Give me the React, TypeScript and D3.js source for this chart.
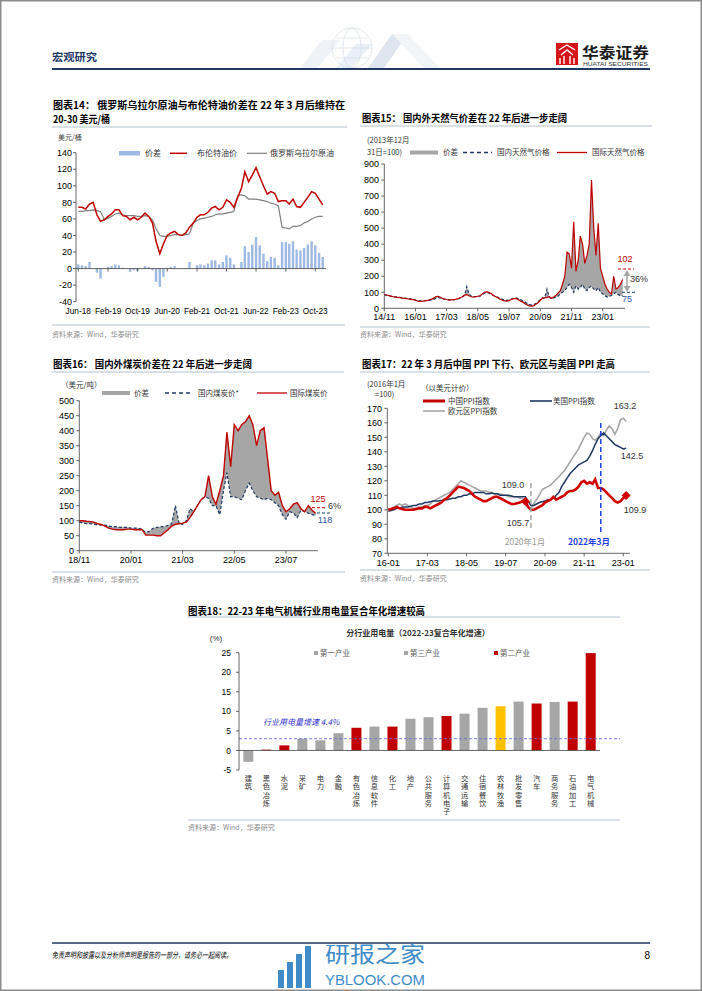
import React from "react";
import * as d3 from "d3";

const SANS = "'Liberation Sans', Arial, 'Noto Sans CJK SC', sans-serif";
const CJK = "'Noto Sans CJK SC', 'Liberation Sans', sans-serif";
const RED = "#C00000";
const NAVY = "#1F3864";
const GRAY = "#A6A6A6";
const AX = "#404040";

// ---------------- Chart 14 data (monthly, Jun-18 .. Dec-23) ----------------
const c14Start = "2018-06";
const c14End = "2023-12";
const c14TickLabels = ["Jun-18", "Feb-19", "Oct-19", "Jun-20", "Feb-21", "Oct-21", "Jun-22", "Feb-23", "Oct-23"];
const c14YTicks = [-40, -20, 0, 20, 40, 60, 80, 100, 120, 140];
const c14Brent = [
  74, 74, 72, 78, 80, 65, 57,
  59, 63, 66, 71, 71, 64, 63, 59, 62, 59, 62, 67,
  63, 55, 33, 18, 30, 40, 43, 45, 41, 40, 43, 50,
  55, 62, 65, 65, 68, 73, 75, 71, 74, 83, 80, 74,
  86, 97, 117, 105, 113, 122, 111, 100, 90, 93, 91, 81,
  82, 82, 78, 84, 75, 74, 80, 86, 93, 91, 84, 77,
];
const c14Urals = [
  69, 69, 70, 70, 71, 70, 69,
  59, 61, 63, 66, 67, 65, 64, 64, 64, 63, 63, 64,
  63, 59, 48, 40, 39, 39, 40, 41, 41, 40, 41, 42,
  55, 58, 60, 61, 62, 63, 65, 66, 66, 67, 68, 69,
  88, 89, 88, 84, 84, 84, 83, 82, 81, 79, 78, 76,
  50, 49, 48, 51, 51, 52, 55, 57, 60, 62, 63, 63,
];
const c14Spread = [
  5, 4, 3, 8, 0, -5, -12,
  0, 2, 3, 5, 4, 1, 0, -4, -2, -3, 0, 3,
  2, -2, -16, -22, -10, 1, 2, 3, 0, 0, 0, 8,
  0, 4, 5, 4, 6, 10, 10, 5, 8, 16, 13, 5,
  0, 8, 27, 20, 29, 38, 28, 18, 9, 14, 13, 4,
  32, 32, 30, 33, 23, 22, 25, 29, 33, 28, 19, 14,
];

// ---------------- Chart 15 data (monthly, 14/11 .. 23/10) ----------------
const c15Start = "2014-11";
const c15TickLabels = ["14/11", "16/01", "17/03", "18/05", "19/07", "20/09", "21/11", "23/01"];
const c15YTicks = [0, 100, 200, 300, 400, 500, 600, 700, 800, 900];
const c15Intl = [
  85, 83, 80, 76, 72, 70, 68, 66, 64, 62, 60, 58, 56, 54,
  50, 45, 43, 44, 46, 48, 52, 56, 62, 72, 75, 70,
  62, 58, 55, 53, 52, 54, 56, 60, 66, 72, 82, 85,
  78, 72, 70, 72, 75, 78, 90, 100, 104, 98, 92, 80,
  72, 65, 56, 50, 46, 44, 48, 55, 60, 62, 55, 45,
  40, 30, 22, 15, 13, 15, 25, 35, 50, 62, 65, 68,
  72, 62, 70, 80, 95, 110, 150, 200, 350, 340, 250, 540,
  230, 300, 450, 400, 280, 330, 400, 800, 500, 330, 530, 250,
  200, 150, 120, 100, 90, 200, 120, 130, 150, 180,
];
const c15Dom = [
  85, 82, 78, 75, 73, 72, 70, 68, 66, 64, 62, 60, 58, 56,
  52, 48, 46, 46, 47, 48, 50, 52, 55, 62, 68, 65,
  60, 57, 55, 53, 52, 53, 55, 58, 64, 70, 80, 135,
  90, 75, 72, 73, 74, 76, 85, 95, 98, 95, 88, 80,
  74, 68, 62, 56, 52, 50, 52, 58, 62, 65, 60, 55,
  48, 40, 32, 25, 20, 22, 30, 40, 55, 65, 65, 120,
  70, 60, 65, 70, 75, 90, 100, 110, 130, 150, 130, 100,
  140, 120, 130, 150, 120, 110, 130, 140, 120, 110, 130, 100,
  90, 80, 70, 75, 80, 90, 100, 85, 80, 75,
];

// ---------------- Chart 16 data (monthly, 18/11 .. 24/03) ----------------
const c16Start = "2018-11";
const c16TickLabels = ["18/11", "20/01", "21/03", "22/05", "23/07"];
const c16YTicks = [0, 50, 100, 150, 200, 250, 300, 350, 400, 450, 500];
const c16Intl = [
  100, 100, 98, 97, 95, 90, 88, 82, 75, 72, 70, 70, 70,
  72, 72, 70, 70, 70, 52, 52, 52, 50, 50, 60, 70, 82,
  88, 90, 92, 95, 110, 130, 150, 170, 180, 250, 180, 155, 200,
  250, 395, 280, 420, 400, 420, 430, 450, 420, 350, 400, 410, 300,
  200, 185, 195, 150, 130, 140, 155, 160, 140, 130, 150, 135, 125,
];
const c16Dom = [
  95, 92, 90, 90, 88, 87, 85, 85, 82, 80, 80, 78, 78,
  78, 75, 75, 75, 72, 60, 65, 75, 78, 80, 80, 85, 90,
  150, 90, 88, 100, 140, 130, 150, 170, 180, 175, 150, 150, 120,
  200, 260, 180, 180, 175, 170, 200, 225, 200, 180, 175, 170, 175,
  170, 160, 150, 120, 105, 130, 125, 110, 135, 130, 125, 120, 118,
];

// ---------------- Chart 17 data (monthly, 16-01 .. 23-02) ----------------
const c17Start = "2016-01";
const c17TickLabels = ["16-01", "17-03", "18-05", "19-07", "20-09", "21-11", "23-01"];
const c17YTicks = [70, 80, 90, 100, 110, 120, 130, 140, 150, 160, 170];
const c17China = [
  100, 100.5, 101, 102, 101, 100.5, 100, 100, 100, 100, 100.5, 101,
  101, 102, 102, 101, 102, 103, 104, 105, 107, 108, 110, 112,
  114, 116, 115.5, 115, 114, 113, 111, 109, 108, 107, 106, 106,
  107, 108, 109, 109, 108, 107, 106, 105, 104, 104, 104.5, 105,
  106, 105.7, 102, 100, 100, 101, 102, 103, 105, 106, 107, 109,
  107, 108, 109, 110, 112, 113, 113, 114, 116, 119, 120, 118,
  119, 118, 121, 115, 115, 114, 112, 110, 108, 106, 105, 106,
  108, 109.9,
];
const c17US = [
  99, 99.5, 100, 101, 101, 102, 102, 102, 102.5, 103, 103, 104,
  104, 105, 105, 105.5, 106, 106, 106, 106.5, 107, 107, 107.5, 108,
  108, 109, 109, 110, 110, 111, 111, 112, 112, 112, 112, 111,
  111, 111.5, 111, 111, 110, 110, 110, 110, 109.5, 109, 109, 109,
  109, 109.0, 106, 103, 103, 104, 105, 105.5, 106, 107, 107, 108,
  110, 112, 116, 119, 122, 125, 127, 129, 131, 132, 133, 134,
  137, 141, 145, 149, 151, 153, 151, 149, 147, 145, 144, 143,
  142, 142.5,
];
const c17Euro = [
  100, 101, 102, 103, 104, 103, 104, 103, 102, 101, 101, 102,
  102, 103, 103, 104, 106, 107, 108, 109, 110, 111, 112, 114,
  116, 118, 120, 119, 118, 117, 116, 115, 114, 113, 113, 113,
  112, 112, 111, 111, 111, 110, 110, 109, 109, 109, 109, 108,
  108, 104, 102, 101, 104, 107, 110, 114, 115, 116, 117, 119,
  121, 123, 125, 127, 130, 133, 136, 139, 142, 146, 150, 153,
  152, 149, 148, 150, 153, 151, 155, 158, 156, 152, 156, 162,
  163.2, 161,
];
const c17MarkLow = "2020-02";
const c17MarkEnd = "2023-02";
const c17Line2020 = "2020-04";
const c17Line2022 = "2022-05";

// ---------------- Chart 18 data ----------------
const c18Cats = ["建筑", "黑色冶炼", "水泥", "采矿", "电力", "金融", "有色冶炼", "信息软件", "化工", "地产", "公共服务", "计算机电子", "交通运输", "住宿餐饮", "农林牧渔", "批发零售", "汽车", "商务服务", "石油加工", "电气机械"];
const c18Vals = [-2.9, 0.2, 1.3, 3.0, 2.6, 4.4, 5.8, 6.1, 6.1, 8.1, 8.5, 8.8, 9.4, 10.9, 11.3, 12.5, 12.0, 12.4, 12.5, 24.9];
const c18Group = ["g", "r", "r", "g", "g", "g", "r", "g", "r", "g", "g", "r", "g", "g", "y", "g", "r", "g", "r", "r"];
const c18YTicks = [-5, 0, 5, 10, 15, 20, 25];
const c18Avg = 3.0;
const c18Legend = [
  { label: "第一产业", g: "g" },
  { label: "第三产业", g: "g" },
  { label: "第二产业", g: "r" },
];
const c18Colors: Record<string, string> = { g: "#A6A6A6", r: "#C00000", y: "#FFC000" };

const pm = d3.timeParse("%Y-%m");
const months = (start: string, n: number) => d3.range(n).map((i) => d3.timeMonth.offset(pm(start)!, i));

function YAxis({ scale, ticks, x, labelX, fs = 9, tick = 3 }: any) {
  const [a, b] = scale.range();
  return (
    <g>
      <line x1={x} x2={x} y1={a} y2={b} stroke={AX} strokeWidth={0.8} />
      {ticks.map((t: number) => (
        <g key={t}>
          <line x1={x - tick} x2={x} y1={scale(t)} y2={scale(t)} stroke={AX} strokeWidth={0.8} />
          <text x={labelX} y={scale(t) + fs * 0.36} textAnchor="end" fontSize={fs} fontFamily={SANS} fill="#000">{t}</text>
        </g>
      ))}
    </g>
  );
}

function XAxis({ scale, ticks, labels, y, x1, x2, labelY, fs = 9 }: any) {
  return (
    <g>
      <line x1={x1} x2={x2} y1={y} y2={y} stroke={AX} strokeWidth={0.8} />
      {ticks.map((t: Date, i: number) => (
        <g key={i}>
          <line x1={scale(t)} x2={scale(t)} y1={y} y2={y + 3} stroke={AX} strokeWidth={0.8} />
          <text x={scale(t)} y={labelY} textAnchor="middle" fontSize={fs} fontFamily={SANS} fill="#000">{labels[i]}</text>
        </g>
      ))}
    </g>
  );
}

function Title({ x, y, text, w }: any) {
  return (
    <text x={x} y={y} fontFamily={CJK} fontWeight="bold" fontSize={10} fill="#000" textLength={w} lengthAdjust="spacingAndGlyphs">{text}</text>
  );
}

function Source({ x, y }: any) {
  return <text x={x} y={y} fontFamily={CJK} fontSize={7} fill="#8c8c8c">资料来源：Wind，华泰研究</text>;
}

function Sep({ x1, x2, y }: any) {
  return <line x1={x1} x2={x2} y1={y} y2={y} stroke="#B4C0D0" strokeWidth={1} />;
}

function Header() {
  return (
    <g>
      <g opacity={0.5} fill="none" stroke="#c9d3e2" strokeWidth={1}>
        <circle cx={352} cy={48} r={20} />
        <ellipse cx={352} cy={48} rx={9} ry={20} />
        <path d="M332 48 H372 M336 38 H368 M336 58 H368" />
      </g>
      <g opacity={0.45}>
        <polygon points="300,68 318,68 340,40 322,40" fill="#dde4ee" />
        <polygon points="368,68 384,68 408,34 392,34" fill="#b8c7dd" />
        <polygon points="392,34 408,34 440,68 424,68" fill="#e3e8ef" />
        <polygon points="336,68 352,68 372,44 356,44" fill="#cfe0f0" />
      </g>
      <text x={52} y={61} fontFamily={CJK} fontWeight="bold" fontSize={10.5} fill={NAVY} textLength={45} lengthAdjust="spacingAndGlyphs">宏观研究</text>
      <line x1={52} x2={650} y1={69} y2={69} stroke={NAVY} strokeWidth={1.8} />
      <rect x={556} y={43} width={22} height={22} fill="#D7141A" />
      <path d="M559 50 L567 45 L575 50 M561 55 L567 50 L573 55 M560 64 V58 M564 64 V56 M570 64 V56 M574 64 V58" stroke="#fff" strokeWidth={1.4} fill="none" />
      <text x={582} y={58} fontFamily={CJK} fontWeight="bold" fontSize={15} fill="#1a1a1a" textLength={67} lengthAdjust="spacingAndGlyphs">华泰证券</text>
      <text x={583} y={66} fontFamily={SANS} fontSize={5} fill="#333" textLength={65} lengthAdjust="spacingAndGlyphs">HUATAI SECURITIES</text>
    </g>
  );
}

function Footer() {
  const bx = [278, 287, 296, 305];
  const bh = [18, 26, 34, 42];
  return (
    <g>
      <line x1={52} x2={650} y1={943} y2={943} stroke={NAVY} strokeWidth={1.5} />
      <text x={52} y={958} fontFamily={CJK} fontSize={8} fontStyle="italic" fill="#000" textLength={180} lengthAdjust="spacingAndGlyphs">免责声明和披露以及分析师声明是报告的一部分，请务必一起阅读。</text>
      <text x={650} y={959} textAnchor="end" fontFamily={SANS} fontSize={10} fill="#000">8</text>
      <g fill="#2C7FC2" opacity={0.9}>
        {bx.map((x, i) => <rect key={i} x={x} y={988 - bh[i]} width={6} height={bh[i]} />)}
        <text x={325} y={962} fontFamily={CJK} fontSize={22} textLength={100} lengthAdjust="spacingAndGlyphs">研报之家</text>
        <text x={325} y={985} fontFamily={SANS} fontSize={15} textLength={100} lengthAdjust="spacingAndGlyphs">YBLOOK.COM</text>
      </g>
    </g>
  );
}

function Chart14() {
  const dates = months(c14Start, c14Brent.length);
  const x = d3.scaleTime().domain([pm(c14Start)!, pm(c14End)!]).range([78.3, 322.7]);
  const y = d3.scaleLinear().domain([-40, 140]).range([301.7, 152.7]);
  const line = (arr: number[]) => d3.line<number>().x((_, i) => x(dates[i])).y((d) => y(d))(arr)!;
  const tp = d3.timeParse("%b-%y");
  const ticks = c14TickLabels.map((l) => tp(l)!);
  return (
    <g>
      <Title x={53} y={109} text="图表14： 俄罗斯乌拉尔原油与布伦特油价差在  22  年  3  月后维持在" w={292} />
      <Title x={53} y={123} text="20-30 美元/桶" w={57} />
      <Sep x1={52} x2={347} y={127} />
      <text x={58} y={140} fontFamily={CJK} fontSize={7} fill="#404040">美元/桶</text>
      {c14Spread.map((v, i) => (
        <rect key={i} x={x(dates[i]) - 1.2} width={2.4} y={Math.min(y(v), y(0))} height={Math.abs(y(v) - y(0))} fill="#9DB9E4" />
      ))}
      <path d={line(c14Urals)} fill="none" stroke="#7f7f7f" strokeWidth={1.2} />
      <path d={line(c14Brent)} fill="none" stroke={RED} strokeWidth={1.5} />
      <YAxis scale={y} ticks={c14YTicks} x={76} labelX={72} />
      <XAxis scale={x} ticks={ticks} labels={c14TickLabels} y={y(0)} x1={76} x2={326} labelY={314} fs={8.3} />
      <rect x={119} y={151} width={21} height={4.5} fill="#9DB9E4" />
      <text x={145} y={156} fontFamily={CJK} fontSize={8} fill="#333">价差</text>
      <line x1={170} x2={187} y1={153.3} y2={153.3} stroke={RED} strokeWidth={1.5} />
      <text x={197} y={156} fontFamily={CJK} fontSize={8} fill="#333">布伦特油价</text>
      <line x1={247} x2={267} y1={153.3} y2={153.3} stroke="#7f7f7f" strokeWidth={1.2} />
      <text x={270} y={156} fontFamily={CJK} fontSize={8} fill="#333">俄罗斯乌拉尔原油</text>
      <Sep x1={52} x2={345} y={325} />
      <Source x={52} y={337} />
    </g>
  );
}

function Chart15() {
  const dates = months(c15Start, c15Intl.length);
  const x = d3.scaleTime().domain([pm("2014-11")!, pm("2023-01")!]).range([384.3, 602.7]);
  const y = d3.scaleLinear().domain([0, 900]).range([308.3, 164]);
  const tp = d3.timeParse("%y/%m");
  const ticks = c15TickLabels.map((l) => tp(l)!);
  const area = d3.area<number>().x((_, i) => x(dates[i])).y0((_, i) => y(c15Dom[i])).y1((d) => y(d))(c15Intl)!;
  const line = (arr: number[]) => d3.line<number>().x((_, i) => x(dates[i])).y((d) => y(d))(arr)!;
  return (
    <g>
      <Title x={362} y={122} text="图表15： 国内外天然气价差在 22 年后进一步走阔" w={205} />
      <Sep x1={360} x2={652} y={126} />
      <text x={367} y={143} fontFamily={CJK} fontSize={7.5} fill="#333">(2013年12月</text>
      <text x={367} y={155} fontFamily={CJK} fontSize={7.5} fill="#333">31日=100)</text>
      <rect x={410} y={150.5} width={28} height={4} fill={GRAY} />
      <text x={443} y={155} fontFamily={CJK} fontSize={7.5} fill="#333">价差</text>
      <line x1={463} x2={492} y1={152.5} y2={152.5} stroke={NAVY} strokeWidth={1.3} strokeDasharray="4,3" />
      <text x={497} y={155} fontFamily={CJK} fontSize={7.5} fill="#333">国内天然气价格</text>
      <line x1={557} x2={587} y1={152.5} y2={152.5} stroke={RED} strokeWidth={1.3} />
      <text x={592} y={155} fontFamily={CJK} fontSize={7.5} fill="#333">国际天然气价格</text>
      <path d={area} fill={GRAY} />
      <path d={line(c15Dom)} fill="none" stroke={NAVY} strokeWidth={1.2} strokeDasharray="3,2" />
      <path d={line(c15Intl)} fill="none" stroke={RED} strokeWidth={1.2} />
      <YAxis scale={y} ticks={c15YTicks} x={384.3} labelX={379} />
      <XAxis scale={x} ticks={ticks} labels={c15TickLabels} y={y(0)} x1={384.3} x2={625} labelY={320} />
      <text x={625} y={262} textAnchor="middle" fontFamily={SANS} fontSize={9} fill={RED}>102</text>
      <line x1={618} x2={634} y1={269} y2={269} stroke={RED} strokeWidth={1} strokeDasharray="3,2" />
      <line x1={627} x2={627} y1={274} y2={288} stroke={GRAY} strokeWidth={1.5} />
      <polygon points="627,270 623.5,276 630.5,276" fill={GRAY} />
      <polygon points="627,292 623.5,286 630.5,286" fill={GRAY} />
      <text x={630} y={281.5} fontFamily={SANS} fontSize={9} fill="#333">36%</text>
      <line x1={622} x2={637} y1={292.3} y2={292.3} stroke={NAVY} strokeWidth={1} strokeDasharray="3,2" />
      <text x={627} y={301.5} textAnchor="middle" fontFamily={SANS} fontSize={9} fill="#2F5597">75</text>
      <Sep x1={360} x2={650} y={327} />
      <Source x={360} y={337} />
    </g>
  );
}

function Chart16() {
  const dates = months(c16Start, c16Intl.length);
  const x = d3.scaleTime().domain([pm("2018-11")!, pm("2023-07")!]).range([79.3, 286]);
  const y = d3.scaleLinear().domain([0, 500]).range([550.7, 400.7]);
  const tp = d3.timeParse("%y/%m");
  const ticks = c16TickLabels.map((l) => tp(l)!);
  const area = d3.area<number>().x((_, i) => x(dates[i])).y0((_, i) => y(c16Dom[i])).y1((d) => y(d))(c16Intl)!;
  const line = (arr: number[]) => d3.line<number>().x((_, i) => x(dates[i])).y((d) => y(d))(arr)!;
  return (
    <g>
      <Title x={53} y={368} text="图表16： 国内外煤炭价差在 22 年后进一步走阔" w={199} />
      <Sep x1={52} x2={344} y={372} />
      <text x={61} y={388} fontFamily={CJK} fontSize={7.5} fill="#333">（美元/吨）</text>
      <rect x={102} y={391} width={28} height={4} fill={GRAY} />
      <text x={134} y={396} fontFamily={CJK} fontSize={7.5} fill="#333">价差</text>
      <line x1={165} x2={193} y1={393} y2={393} stroke={NAVY} strokeWidth={1.3} strokeDasharray="4,3" />
      <text x={198} y={396} fontFamily={CJK} fontSize={7.5} fill="#333">国内煤炭价*</text>
      <line x1={257} x2={287} y1={393} y2={393} stroke={RED} strokeWidth={1.3} />
      <text x={290} y={396} fontFamily={CJK} fontSize={7.5} fill="#333">国际煤炭价</text>
      <path d={area} fill={GRAY} />
      <path d={line(c16Dom)} fill="none" stroke={NAVY} strokeWidth={1.2} strokeDasharray="3,2" />
      <path d={line(c16Intl)} fill="none" stroke={RED} strokeWidth={1.4} />
      <YAxis scale={y} ticks={c16YTicks} x={79.3} labelX={74} />
      <XAxis scale={x} ticks={ticks} labels={c16TickLabels} y={y(0)} x1={79.3} x2={318} labelY={563} />
      <text x={318} y={502} textAnchor="middle" fontFamily={SANS} fontSize={9} fill={RED}>125</text>
      <line x1={312} x2={326} y1={507.7} y2={507.7} stroke={RED} strokeWidth={1} strokeDasharray="3,2" />
      <text x={328} y={508.5} fontFamily={SANS} fontSize={9} fill="#333">6%</text>
      <line x1={317} x2={331} y1={513} y2={513} stroke={NAVY} strokeWidth={1} strokeDasharray="3,2" />
      <text x={325} y={523} textAnchor="middle" fontFamily={SANS} fontSize={9} fill="#2F5597">118</text>
      <Sep x1={52} x2={345} y={572} />
      <Source x={52} y={582} />
    </g>
  );
}

function Chart17() {
  const dates = months(c17Start, c17China.length);
  const x = d3.scaleTime().domain([pm("2016-01")!, pm("2023-01")!]).range([388.3, 623.3]);
  const y = d3.scaleLinear().domain([70, 170]).range([553.3, 408.3]);
  const tp = d3.timeParse("%y-%m");
  const ticks = c17TickLabels.map((l) => tp(l)!);
  const line = (arr: number[]) => d3.line<number>().x((_, i) => x(dates[i])).y((d) => y(d))(arr)!;
  const idx = (s: string) => dates.findIndex((d) => +d === +pm(s)!);
  const iLow = idx(c17MarkLow);
  const iEnd = idx(c17MarkEnd);
  const diamond = (cx: number, cy: number, r: number) => `M${cx},${cy - r}L${cx + r},${cy}L${cx},${cy + r}L${cx - r},${cy}Z`;
  const xL1 = x(pm(c17Line2020)!);
  const xL2 = x(pm(c17Line2022)!);
  return (
    <g>
      <Title x={362} y={368} text="图表17：22 年 3 月后中国 PPI 下行、欧元区与美国 PPI 走高" w={253} />
      <Sep x1={360} x2={650} y={372} />
      <text x={367} y={387} fontFamily={CJK} fontSize={7.5} fill="#333">(2016年1月</text>
      <text x={375} y={397} fontFamily={CJK} fontSize={7.5} fill="#333">=100)</text>
      <text x={421} y={391} fontFamily={CJK} fontSize={7.5} fill="#333">（以美元计价）</text>
      <line x1={423} x2={445} y1={401} y2={401} stroke={RED} strokeWidth={3} />
      <text x={448} y={404} fontFamily={CJK} fontSize={7.5} fill="#333">中国PPI指数</text>
      <line x1={530} x2={552} y1={401} y2={401} stroke={NAVY} strokeWidth={1.6} />
      <text x={553} y={404} fontFamily={CJK} fontSize={7.5} fill="#333">美国PPI指数</text>
      <line x1={423} x2={445} y1={411} y2={411} stroke="#A6A6A6" strokeWidth={1.6} />
      <text x={448} y={414} fontFamily={CJK} fontSize={7.5} fill="#333">欧元区PPI指数</text>
      <path d={line(c17Euro)} fill="none" stroke="#A6A6A6" strokeWidth={1.6} />
      <path d={line(c17US)} fill="none" stroke={NAVY} strokeWidth={1.5} />
      <path d={line(c17China)} fill="none" stroke="#D00000" strokeWidth={2.6} />
      <line x1={xL1} x2={xL1} y1={483} y2={528} stroke="#A6A6A6" strokeWidth={1.5} strokeDasharray="5,3" />
      <line x1={xL2} x2={xL2} y1={423} y2={532} stroke="#1F3FE0" strokeWidth={1.5} strokeDasharray="5,3" />
      <path d={diamond(x(dates[iLow]), y(c17China[iLow]), 4.5)} fill="#D00000" />
      <path d={diamond(x(dates[iEnd]), y(c17China[iEnd]), 4.5)} fill="#D00000" />
      <YAxis scale={y} ticks={c17YTicks} x={387.3} labelX={382} />
      <XAxis scale={x} ticks={ticks} labels={c17TickLabels} y={y(70)} x1={387.3} x2={630} labelY={566} />
      <text x={513} y={488} textAnchor="middle" fontFamily={SANS} fontSize={9} fill="#333">109.0</text>
      <text x={518} y={526} textAnchor="middle" fontFamily={SANS} fontSize={9} fill="#333">105.7</text>
      <text x={625} y={409} textAnchor="middle" fontFamily={SANS} fontSize={9} fill="#333">163.2</text>
      <text x={632} y={459} textAnchor="middle" fontFamily={SANS} fontSize={9} fill="#333">142.5</text>
      <text x={635} y={513} textAnchor="middle" fontFamily={SANS} fontSize={9} fill="#333">109.9</text>
      <text x={525} y={545} textAnchor="middle" fontFamily={CJK} fontSize={8.5} fill="#999">2020年1月</text>
      <text x={589} y={545} textAnchor="middle" fontFamily={CJK} fontSize={8.5} fontWeight="bold" fill="#1F3FE0">2022年3月</text>
      <Sep x1={360} x2={650} y={570} />
      <Source x={360} y={581} />
    </g>
  );
}

function Chart18() {
  const x = d3.scalePoint<string>().domain(c18Cats).range([239.3, 599.7]).padding(0.5);
  const y = d3.scaleLinear().domain([-5, 25]).range([770, 652.7]);
  const bw = 10;
  return (
    <g>
      <Title x={188} y={614.5} text="图表18：22-23 年电气机械行业用电量复合年化增速较高" w={237} />
      <Sep x1={188} x2={620} y={617} />
      <text x={418} y={636} textAnchor="middle" fontFamily={CJK} fontWeight="bold" fontSize={8} fill="#333">分行业用电量（2022-23复合年化增速）</text>
      <text x={216} y={641} textAnchor="middle" fontFamily={SANS} fontSize={8} fill="#333">(%)</text>
      {c18Legend.map((l, i) => (
        <g key={i}>
          <rect x={314 + i * 90} y={651} width={4} height={4} fill={c18Colors[l.g]} />
          <text x={320 + i * 90} y={656} fontFamily={CJK} fontSize={7.5} fill="#595959">{l.label}</text>
        </g>
      ))}
      {c18Vals.map((v, i) => (
        <rect key={i} x={x(c18Cats[i])! - bw / 2} width={bw} y={Math.min(y(v), y(0))} height={Math.abs(y(v) - y(0))} fill={c18Colors[c18Group[i]]} />
      ))}
      <line x1={239} x2={620} y1={y(c18Avg)} y2={y(c18Avg)} stroke="#6B6BE0" strokeWidth={0.9} strokeDasharray="3,2" />
      <text x={263} y={725} fontFamily={CJK} fontSize={8} fontStyle="italic" fill="#3333CC">行业用电量增速 4.4%</text>
      <YAxis scale={y} ticks={c18YTicks} x={239} labelX={231} fs={8.5} />
      <line x1={239} x2={600} y1={y(0)} y2={y(0)} stroke={AX} strokeWidth={0.8} />
      {c18Cats.map((c, i) => (
        <g key={c}>
          {Array.from(c).map((ch, j) => (
            <text key={j} x={x(c)!} y={781 + j * 8.3} textAnchor="middle" fontFamily={CJK} fontSize={7.3} fill="#333">{ch}</text>
          ))}
        </g>
      ))}
      <Sep x1={188} x2={620} y={820} />
      <Source x={188} y={830} />
    </g>
  );
}

export default function App() {
  return (
    <svg width={702} height={991} viewBox="0 0 702 991" style={{ position: "absolute", left: 0, top: 0, background: "#fff" }} xmlns="http://www.w3.org/2000/svg">
      <rect x={0} y={0} width={702} height={991} fill="#fff" />
      <Header />
      <Chart14 />
      <Chart15 />
      <Chart16 />
      <Chart17 />
      <Chart18 />
      <Footer />
      <rect x={0.75} y={0.75} width={700.5} height={989.5} fill="none" stroke="#8c8c8c" strokeWidth={1.5} />
    </svg>
  );
}
